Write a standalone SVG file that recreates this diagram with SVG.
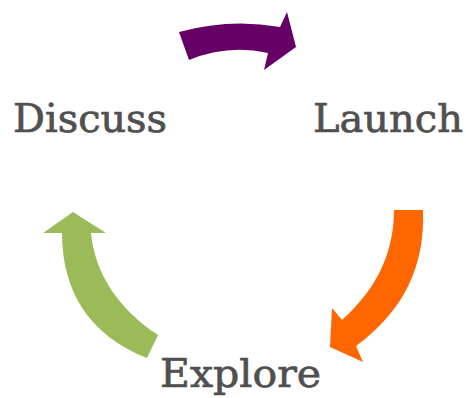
<svg xmlns="http://www.w3.org/2000/svg" width="466" height="398" viewBox="0 0 466 398">
<style>
.lbl{font-family:"DejaVu Serif","Liberation Serif",serif;font-size:40px;fill:#505050;stroke:#505050;stroke-width:0.7}
</style>
<rect width="466" height="398" fill="#ffffff"/>
<g id="connectors">
<path id="arrow-discuss-launch" d="M179,32 Q230,18 280,27 L287,12 L296,47 L264,70 L268,53 Q228,44 189,60 Z" fill="#660066"/>
<path id="arrow-launch-explore" d="M394,210 L423,210 C425,265 405,310 356,346 L363,362 L330,347 L332,308 L342,320 C370,295 394,260 394,210 Z" fill="#ff6600"/>
<path id="arrow-explore-discuss" d="M73,212 L106,233 L91,233 C95,275 120,310 158,335 L147,358 C88,335 62,290 62,233 L43,233 Z" fill="#9bbb59"/>
</g>
<g id="node-discuss"><text class="lbl" x="13" y="132" textLength="154" lengthAdjust="spacingAndGlyphs">Discuss</text></g>
<g id="node-launch"><text class="lbl" x="313" y="132" textLength="150" lengthAdjust="spacingAndGlyphs">Launch</text></g>
<g id="node-explore"><text class="lbl" x="160" y="387" textLength="161" lengthAdjust="spacingAndGlyphs">Explore</text></g>
</svg>
